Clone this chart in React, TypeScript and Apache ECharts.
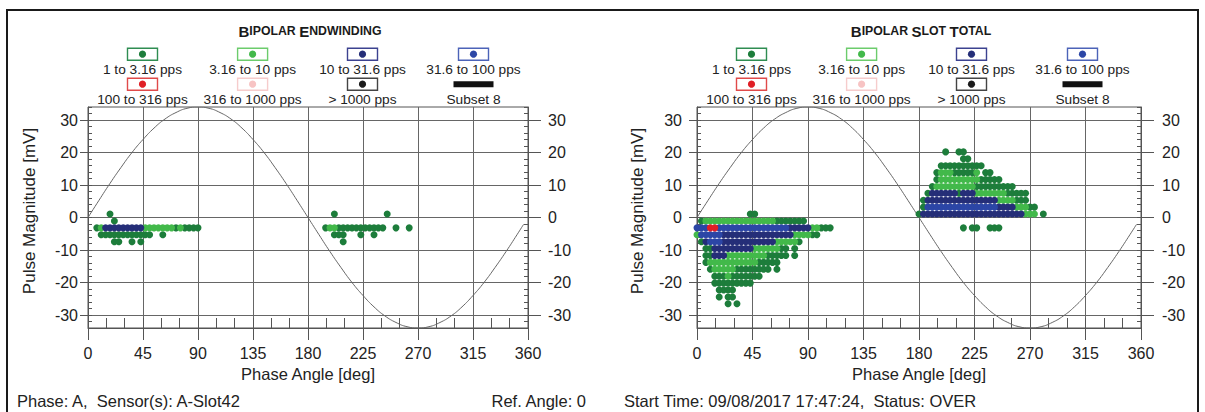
import { useEffect, useRef } from "react";
import * as echarts from "echarts";

// ---------------- data ----------------
const PHASE_TICK_STEP = 45;
const PHASE_MINOR_STEP = 15;
const MAG_MIN = -34;
const MAG_MAX = 34;
const MAG_LABELS = [-30, -20, -10, 0, 10, 20, 30];
const PHASE_BIN_DEG = 3.6; // width of one phase bin

const CATEGORY_NAMES = [
  "1 to 3.16 pps",
  "3.16 to 10 pps",
  "10 to 31.6 pps",
  "31.6 to 100 pps",
  "100 to 316 pps",
  "316 to 1000 pps",
  "> 1000 pps",
  "Subset 8",
];
const CATEGORY_COLORS = ["#1d7d3b", "#42b94a", "#252e78", "#2c46a6", "#e01f26", "#f7c3c3", "#1a1a1a", "#111111"];
const BOX_COLORS = ["#2f8d52", "#6ccc6c", "#3c4290", "#4c63b8", "#e04a4a", "#f6cccc", "#444444", "#111111"];

// reference sine (phase voltage): [deg], [mV]
const WAVE_DEG = [0, 9, 18, 27, 36, 45, 54, 63, 72, 81, 90, 99, 108, 117, 126, 135, 144, 153, 162, 171, 180, 189, 198, 207, 216, 225, 234, 243, 252, 261, 270, 279, 288, 297, 306, 315, 324, 333, 342, 351, 356.4];
const WAVE_MV = [0, 5.3, 10.5, 15.4, 20.0, 24.0, 27.5, 30.3, 32.3, 33.6, 34.0, 33.6, 32.3, 30.3, 27.5, 24.0, 20.0, 15.4, 10.5, 5.3, 0, -5.3, -10.5, -15.4, -20.0, -24.0, -27.5, -30.3, -32.3, -33.6, -34.0, -33.6, -32.3, -30.3, -27.5, -24.0, -20.0, -15.4, -10.5, -5.3, -2.1];

// runs of occupied cells: [magnitude mV, first phase bin, last phase bin]
// ---- Bipolar Endwinding
const endwinding1to3 = [
  [1.06, 5, 5], [1.06, 56, 56], [1.06, 68, 68],
  [-1.06, 6, 6],
  [-3.19, 2, 2], [-3.19, 20, 20], [-3.19, 22, 25],
  [-3.19, 54, 54], [-3.19, 57, 67], [-3.19, 70, 70], [-3.19, 73, 73],
  [-5.31, 3, 14], [-5.31, 17, 17], [-5.31, 56, 58], [-5.31, 62, 62], [-5.31, 65, 65],
  [-7.44, 6, 7], [-7.44, 10, 10], [-7.44, 12, 12], [-7.44, 58, 58],
];
const endwinding3to10 = [[-3.19, 3, 3], [-3.19, 13, 19], [-3.19, 21, 21], [-3.19, 55, 56]];
const endwinding10to31 = [[-3.19, 4, 12]];
const endwinding31to100: number[][] = [];
const endwinding100to316: number[][] = [];

// ---- Bipolar Slot Total
const slot1to3 = [
  [1.06, 12, 13],
  [-1.06, 1, 1], [-1.06, 18, 24],
  [-3.19, 28, 30],
  [-5.31, 26, 27],
  [-7.44, 1, 1], [-7.44, 23, 23],
  [-9.56, 2, 3], [-9.56, 19, 20], [-9.56, 22, 22],
  [-11.69, 2, 3], [-11.69, 16, 20], [-11.69, 22, 22],
  [-13.81, 2, 2], [-13.81, 14, 18],
  [-15.94, 3, 3], [-15.94, 9, 16], [-15.94, 18, 18],
  [-18.06, 4, 6], [-18.06, 8, 14],
  [-20.19, 4, 12],
  [-22.31, 5, 8],
  [-24.44, 5, 5], [-24.44, 7, 8],
  [-26.56, 7, 7], [-26.56, 9, 9],
  [20.19, 56, 56], [20.19, 59, 60],
  [18.06, 60, 61],
  [15.94, 55, 64],
  [13.81, 54, 54], [13.81, 58, 62], [13.81, 65, 66],
  [11.69, 54, 54], [11.69, 64, 68],
  [9.56, 53, 53], [9.56, 63, 71],
  [7.44, 52, 52], [7.44, 59, 59], [7.44, 70, 74],
  [5.31, 51, 51], [5.31, 72, 74],
  [3.19, 51, 51], [3.19, 75, 76],
  [1.06, 50, 50], [1.06, 78, 78],
  [-3.19, 60, 60], [-3.19, 62, 63], [-3.19, 66, 68],
];
const slot3to10 = [
  [-1.06, 2, 17], [-3.19, 26, 27], [-5.31, 0, 0], [-5.31, 22, 25], [-7.44, 18, 22],
  [-9.56, 13, 18], [-11.69, 7, 15], [-13.81, 3, 13], [-15.94, 4, 8], [-18.06, 7, 7],
  [13.81, 55, 57], [13.81, 63, 63], [11.69, 55, 63], [9.56, 54, 62], [7.44, 63, 69],
  [5.31, 68, 71], [3.19, 72, 74], [1.06, 74, 76],
];
const slot10to31 = [
  [-3.19, 21, 25], [-5.31, 6, 21], [-7.44, 2, 2], [-7.44, 6, 17], [-9.56, 4, 12], [-11.69, 4, 6],
  [7.44, 53, 58], [7.44, 60, 62], [5.31, 52, 67], [3.19, 68, 71], [1.06, 51, 73],
];
const slot31to100 = [[-3.19, 0, 2], [-3.19, 5, 20], [-5.31, 1, 5], [-7.44, 3, 5], [3.19, 52, 67]];
const slot100to316 = [[-3.19, 3, 4]];

const PANELS = [
  {
    titleRich: "{b|B}{s|IPOLAR }{b|E}{s|NDWINDING}",
    runs: [endwinding1to3, endwinding3to10, endwinding10to31, endwinding31to100, endwinding100to316],
  },
  {
    titleRich: "{b|B}{s|IPOLAR }{b|S}{s|LOT }{b|T}{s|OTAL}",
    runs: [slot1to3, slot3to10, slot10to31, slot31to100, slot100to316],
  },
];

const FOOTER_LEFT = "Phase: A,  Sensor(s): A-Slot42";
const FOOTER_REF = "Ref. Angle: 0";
const FOOTER_RIGHT = "Start Time: 09/08/2017 17:47:24,  Status: OVER";
const X_NAME = "Phase Angle [deg]";
const Y_NAME = "Pulse Magnitude [mV]";

// ---------------- layout ----------------
const FONT = "'Liberation Sans', Arial, Helvetica, sans-serif";
const GRIDS = [
  { left: 88, top: 107, width: 440, height: 221, labelMarginL: 10, labelMarginR: 20, nameX: 29 },
  { left: 697, top: 107, width: 444, height: 221, labelMarginL: 15, labelMarginR: 21, nameX: 637 },
];
const LEGEND_COL_OFFSETS = [54.5, 164.6, 274.5, 385.5];
const LEGEND_BOX_Y = [54.2, 84.2];
const LEGEND_LABEL_Y = [69.5, 99.2];

function runsToPoints(runs: number[][]) {
  const pts: number[][] = [];
  for (const [mag, b0, b1] of runs) {
    for (let b = b0; b <= b1; b++) pts.push([b * PHASE_BIN_DEG, mag]);
  }
  return pts;
}

function buildOption() {
  const grid: any[] = [];
  const xAxis: any[] = [];
  const yAxis: any[] = [];
  const series: any[] = [];
  const graphic: any[] = [];
  const axisColor = "#555";
  const labelStyle = { fontSize: 16, color: "#222", fontFamily: FONT };

  GRIDS.forEach((g, p) => {
    grid.push({
      left: g.left, top: g.top, width: g.width, height: g.height,
      show: true, borderColor: axisColor, borderWidth: 1, containLabel: false, outerBoundsMode: "none",
    });
    xAxis.push({
      type: "value", gridIndex: p, min: 0, max: 360, interval: PHASE_TICK_STEP, position: "bottom",
      axisLine: { show: true, onZero: false, lineStyle: { color: axisColor } },
      axisTick: { show: true, length: 12, lineStyle: { color: axisColor } },
      axisLabel: { ...labelStyle, margin: 17 },
      splitLine: { show: true, lineStyle: { color: "#666", width: 1 } },
      name: X_NAME, nameLocation: "middle", nameGap: 36,
      nameTextStyle: { fontSize: 16.5, color: "#222", fontFamily: FONT },
    });
    xAxis.push({
      type: "value", gridIndex: p, min: 0, max: 360, interval: PHASE_MINOR_STEP, position: "bottom",
      axisLine: { show: false, onZero: false }, axisLabel: { show: false }, splitLine: { show: false },
      axisTick: { show: true, inside: true, length: 10, lineStyle: { color: axisColor } },
    });
    // left main
    yAxis.push({
      type: "value", gridIndex: p, min: MAG_MIN, max: MAG_MAX, position: "left",
      axisLine: { show: true, onZero: false, lineStyle: { color: axisColor } },
      axisTick: { show: true, length: 8, customValues: MAG_LABELS, lineStyle: { color: axisColor } },
      axisLabel: { ...labelStyle, margin: g.labelMarginL, customValues: MAG_LABELS },
      splitLine: { show: true, lineStyle: { color: "#666", width: 1 } },
    });
    yAxis.push({
      type: "value", gridIndex: p, min: MAG_MIN, max: MAG_MAX, interval: 2, position: "left",
      axisLine: { show: false, onZero: false }, axisLabel: { show: false }, splitLine: { show: false },
      axisTick: { show: true, inside: true, length: 4, lineStyle: { color: axisColor } },
    });
    // right main
    yAxis.push({
      type: "value", gridIndex: p, min: MAG_MIN, max: MAG_MAX, position: "right",
      axisLine: { show: true, onZero: false, lineStyle: { color: axisColor } },
      axisTick: { show: true, length: 13, customValues: MAG_LABELS, lineStyle: { color: axisColor } },
      axisLabel: { ...labelStyle, margin: g.labelMarginR, customValues: MAG_LABELS },
      splitLine: { show: false },
    });
    yAxis.push({
      type: "value", gridIndex: p, min: MAG_MIN, max: MAG_MAX, interval: 2, position: "right",
      axisLine: { show: false, onZero: false }, axisLabel: { show: false }, splitLine: { show: false },
      axisTick: { show: true, inside: true, length: 4, lineStyle: { color: axisColor } },
    });

    // reference wave
    series.push({
      type: "line", xAxisIndex: p * 2, yAxisIndex: p * 4, smooth: true, showSymbol: false, silent: true,
      data: WAVE_DEG.map((d, i) => [d, WAVE_MV[i]]),
      lineStyle: { color: "#666", width: 1 }, z: 1,
    });
    PANELS[p].runs.forEach((runs, c) => {
      series.push({
        type: "scatter", name: CATEGORY_NAMES[c], xAxisIndex: p * 2, yAxisIndex: p * 4,
        data: runsToPoints(runs), symbol: "circle", symbolSize: 7,
        itemStyle: { color: CATEGORY_COLORS[c], opacity: 1 }, z: 2 + c,
      });
    });

    // title
    const cx = g.left + g.width / 2 + 2;
    graphic.push({
      type: "text", x: cx, y: 31,
      style: {
        text: PANELS[p].titleRich, align: "center", verticalAlign: "middle",
        textAlign: "center", textVerticalAlign: "middle", fill: "#1a1a1a",
        rich: {
          b: { fontSize: 15, fontWeight: "bold", fontFamily: FONT, fill: "#1a1a1a", color: "#1a1a1a" },
          s: { fontSize: 12.3, fontWeight: "bold", fontFamily: FONT, fill: "#1a1a1a", color: "#1a1a1a" },
        },
      },
    });
    // legend
    CATEGORY_NAMES.forEach((name, i) => {
      const col = i % 4;
      const row = Math.floor(i / 4);
      const lx = g.left + LEGEND_COL_OFFSETS[col];
      const by = LEGEND_BOX_Y[row];
      if (i === 7) {
        graphic.push({ type: "rect", shape: { x: lx - 20, y: by - 3, width: 40, height: 6 }, style: { fill: CATEGORY_COLORS[i] } });
      } else {
        graphic.push({
          type: "rect", shape: { x: lx - 15, y: by - 6, width: 30, height: 12 },
          style: { fill: "#fff", stroke: BOX_COLORS[i], lineWidth: 1.4 },
        });
        graphic.push({ type: "circle", shape: { cx: lx, cy: by, r: 3.6 }, style: { fill: CATEGORY_COLORS[i] } });
      }
      graphic.push({
        type: "text", x: lx, y: LEGEND_LABEL_Y[row],
        style: {
          text: name, fontSize: 13.7, fontFamily: FONT, fill: "#222",
          align: "center", verticalAlign: "middle", textAlign: "center", textVerticalAlign: "middle",
        },
      });
    });
    // y axis name
    graphic.push({
      type: "text", x: g.nameX, y: 211, rotation: Math.PI / 2,
      style: {
        text: Y_NAME, fontSize: 17, fontFamily: FONT, fill: "#222",
        align: "center", verticalAlign: "middle", textAlign: "center", textVerticalAlign: "middle",
      },
    });
  });

  // footer
  const footStyle = { fontSize: 16.5, fontFamily: FONT, fill: "#222", verticalAlign: "middle", textVerticalAlign: "middle" };
  graphic.push({ type: "text", x: 17, y: 401, style: { ...footStyle, text: FOOTER_LEFT, align: "left", textAlign: "left" } });
  graphic.push({ type: "text", x: 586, y: 401, style: { ...footStyle, text: FOOTER_REF, align: "right", textAlign: "right" } });
  graphic.push({ type: "text", x: 624, y: 401, style: { ...footStyle, text: FOOTER_RIGHT, align: "left", textAlign: "left" } });
  // frame
  graphic.push({
    type: "rect", shape: { x: 7, y: 10, width: 1191, height: 420 },
    style: { fill: "none", stroke: "#1a1a1a", lineWidth: 2 }, silent: true,
  });

  return {
    animation: false,
    backgroundColor: "#ffffff",
    textStyle: { fontFamily: FONT },
    grid, xAxis, yAxis, series, graphic,
  };
}

export default function App() {
  const ref = useRef<HTMLDivElement>(null);
  useEffect(() => {
    document.body.style.margin = "0";
    if (!ref.current) return;
    const chart = echarts.init(ref.current, undefined, { renderer: "svg" });
    chart.setOption(buildOption() as any);
    return () => chart.dispose();
  }, []);
  return <div ref={ref} style={{ width: 1205, height: 412 }} />;
}
